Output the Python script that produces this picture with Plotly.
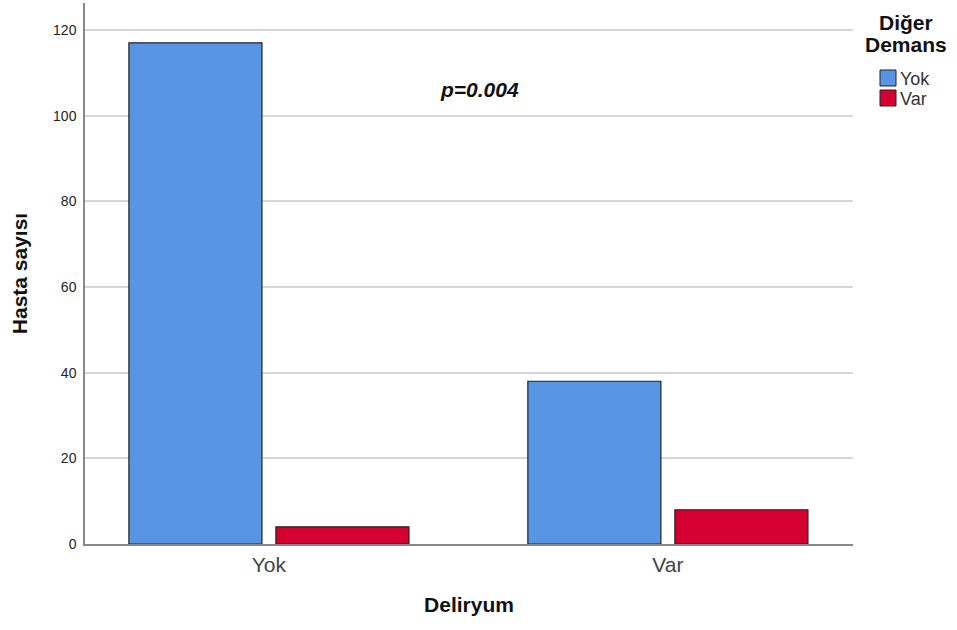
import plotly.graph_objects as go

# Data
categories = ["Yok", "Var"]          # Deliryum
series_names = ["Yok", "Var"]        # Diğer Demans
values_yok = [117, 38]
values_var = [4, 8]
y_ticks = [0, 20, 40, 60, 80, 100, 120]

colors = ["#5896E5", "#D5002F"]
x_pos = [0, 1]

# plot area in pixels (for placing legend pieces in paper coords)
L, R, T, B = 85, 853, 3, 544
W, H = 957, 630


def px(x):
    return (x - L) / (R - L)


def py(y):
    return (B - y) / (B - T)


fig = go.Figure()
for name, vals, col, off in zip(series_names, [values_yok, values_var], colors, [-0.351, 0.0175]):
    fig.add_trace(go.Bar(
        x=x_pos, y=vals, name=name,
        width=0.3335, offset=off,
        marker=dict(color=col, line=dict(color="#222222", width=1.2)),
        showlegend=False,
    ))

FONT = "Arial, Liberation Sans, sans-serif"

shapes = []
annotations = [
    dict(text="<b><i>p=0.004</i></b>", x=0.529, y=106, xref="x", yref="y",
         showarrow=False, font=dict(size=21, color="#111111")),
    dict(text="<b>Diğer</b>", x=px(906), y=py(22), xref="paper", yref="paper",
         xanchor="center", yanchor="middle", showarrow=False,
         font=dict(size=21, color="#111111")),
    dict(text="<b>Demans</b>", x=px(906), y=py(45), xref="paper", yref="paper",
         xanchor="center", yanchor="middle", showarrow=False,
         font=dict(size=21, color="#111111")),
]

# legend: swatch + label for each series
for i, (name, col) in enumerate(zip(series_names, colors)):
    top = 70 + i * 20
    shapes.append(dict(type="rect", xref="paper", yref="paper",
                       x0=px(880), x1=px(896), y0=py(top), y1=py(top + 16),
                       fillcolor=col, line=dict(color="#222222", width=1)))
    annotations.append(dict(text=name, x=px(898), y=py(top + 8.5), xref="paper", yref="paper",
                            xanchor="left", yanchor="middle", showarrow=False,
                            font=dict(size=18, color="#333333")))

fig.update_layout(
    width=W, height=H,
    margin=dict(l=L, r=W - R, t=T, b=H - B),
    plot_bgcolor="white", paper_bgcolor="white",
    font=dict(family=FONT, color="#222222"),
    barmode="overlay",
    showlegend=False,
    xaxis=dict(
        range=[-0.461, 1.464],
        tickmode="array", tickvals=x_pos, ticktext=categories,
        tickfont=dict(size=21, color="#444444"),
        showgrid=False, zeroline=False,
        showline=True, linecolor="#888888", linewidth=1.5,
        ticks="", ticklabelstandoff=1,
        title=dict(text="<b>Deliryum</b>", font=dict(size=21, color="#111111"), standoff=22),
    ),
    yaxis=dict(
        range=[0, 126.3],
        tickmode="array", tickvals=y_ticks,
        tickfont=dict(size=14, color="#222222"),
        showgrid=True, gridcolor="#D6D6D6", gridwidth=1.5,
        zeroline=False,
        showline=True, linecolor="#888888", linewidth=1.5,
        ticks="", ticklabelstandoff=4,
        title=dict(text="<b>Hasta sayısı</b>", font=dict(size=21, color="#111111"), standoff=20),
    ),
    shapes=shapes,
    annotations=annotations,
)

fig.write_html("out.html")
